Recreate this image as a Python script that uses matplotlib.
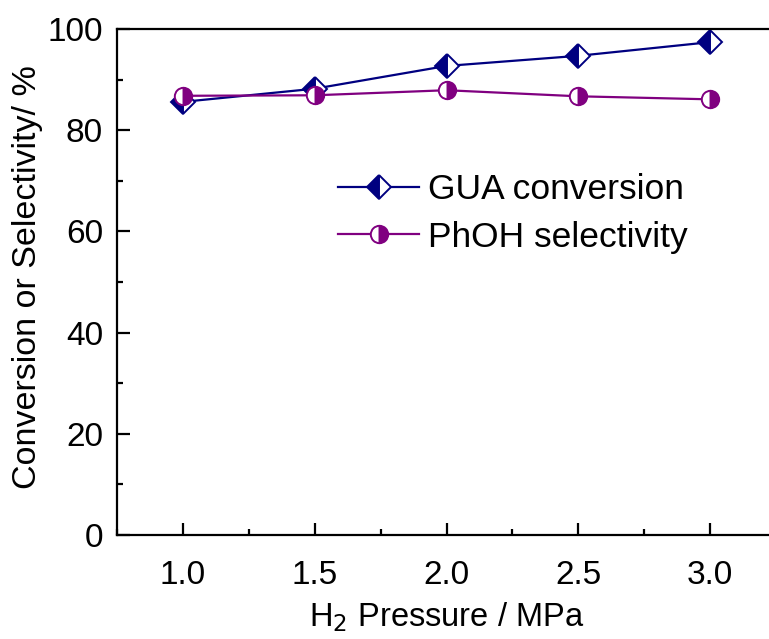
import matplotlib
matplotlib.use("Agg")
import matplotlib.pyplot as plt
from matplotlib.ticker import MultipleLocator

pressure = [1.0, 1.5, 2.0, 2.5, 3.0]
gua_conversion = [85.6, 88.2, 92.7, 94.7, 97.4]
phoh_selectivity = [86.8, 86.9, 87.9, 86.7, 86.1]
xtick_labels = ["1.0", "1.5", "2.0", "2.5", "3.0"]

plt.rcParams['font.family'] = ['Liberation Sans', 'DejaVu Sans']

fig = plt.figure(figsize=(7.69, 6.39), dpi=100)
ax = fig.add_axes([117/769, 104/639, 659/769, 506/639])

ax.plot(pressure, gua_conversion, color='#000080', lw=1.6, marker='D', markersize=12,
        fillstyle='left', markerfacecolor='#000080', markerfacecoloralt='white',
        markeredgecolor='#000080', markeredgewidth=1.4, label='GUA conversion')
ax.plot(pressure, phoh_selectivity, color='#800080', lw=1.6, marker='o', markersize=12.5,
        fillstyle='right', markerfacecolor='#800080', markerfacecoloralt='white',
        markeredgecolor='#800080', markeredgewidth=1.4, label='PhOH selectivity')

ax.set_xlim(0.75, 3.25)
ax.set_ylim(0, 100)
ax.set_xticks(pressure)
ax.set_xticklabels(xtick_labels)
ax.xaxis.set_minor_locator(MultipleLocator(0.25))
ax.yaxis.set_major_locator(MultipleLocator(20))
ax.yaxis.set_minor_locator(MultipleLocator(10))

ax.spines['right'].set_visible(False)
for s in ['left', 'bottom', 'top']:
    ax.spines[s].set_linewidth(1.6)

ax.tick_params(axis='both', which='both', direction='in', width=1.6, top=False, right=False)
ax.tick_params(axis='both', which='major', length=9, labelsize=24)
ax.tick_params(axis='both', which='minor', length=4.5)
ax.tick_params(axis='x', which='major', pad=18)
ax.tick_params(axis='y', which='major', pad=10)

ax.set_xlabel(r'H$_2$ Pressure / MPa', fontsize=23.5, labelpad=7)
ax.set_ylabel('Conversion or Selectivity/ %', fontsize=24.5)
ax.yaxis.set_label_coords(-0.112, 0.51)

ax.legend(loc='upper left', bbox_to_anchor=(338/769, 1 - 173/639), bbox_transform=fig.transFigure,
          frameon=False, fontsize=25.5, handlelength=2.3, handletextpad=0.25,
          labelspacing=0.42, borderpad=0, borderaxespad=0)

fig.savefig('out.png', dpi=100)
